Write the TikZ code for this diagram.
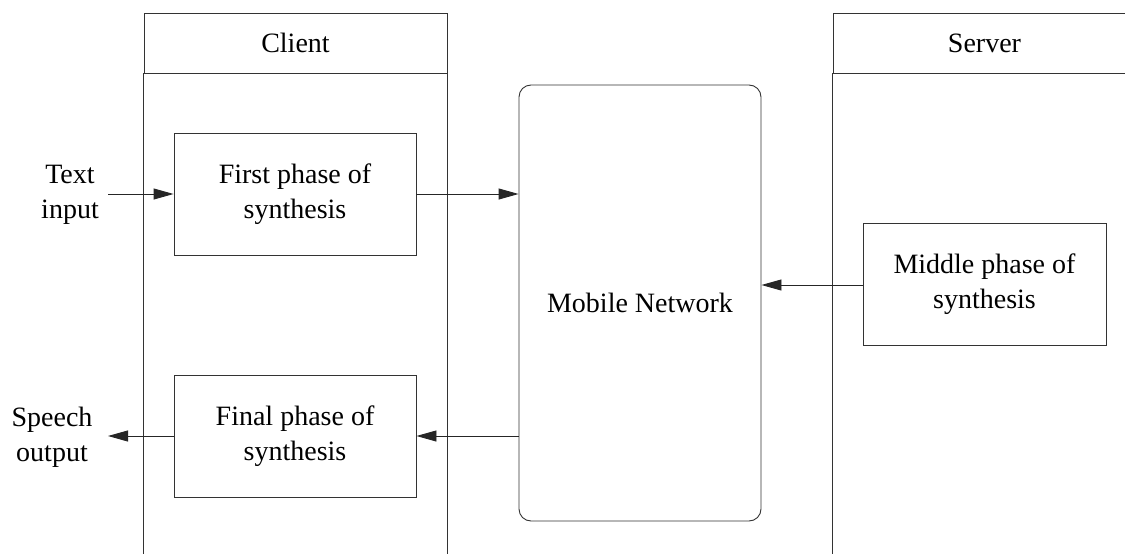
\documentclass[tikz,border=0pt]{standalone}
\usepackage{fontspec}
\setmainfont{Liberation Serif}
\usetikzlibrary{arrows.meta}

\begin{document}
\begin{tikzpicture}[x=1pt, y=-1pt,
  every node/.style={font=\fontsize{28}{35}\selectfont, align=center, inner sep=0pt},
  line/.style={draw=black!80, line width=0.9pt},
  lanehead/.style={line, minimum width=303pt, minimum height=60pt},
  phase/.style={line, minimum width=242pt, minimum height=122pt},
  netbox/.style={line, rounded corners=12pt, minimum width=242pt, minimum height=436pt},
  arr/.style={draw=black!85, line width=0.9pt, -{Triangle[length=20pt, width=11pt]}}
]
\useasboundingbox (0,0) rectangle (1125,554);
\clip (0,0) rectangle (1125,554);

% swim lanes
\node[lanehead] (clienthead) at (295.5,43) {Client};
\node[lanehead] (serverhead) at (984.5,43) {Server};
\draw[line] (clienthead.south west) -- ++(0,500);
\draw[line] (clienthead.south east) -- ++(0,500);
\draw[line] (serverhead.south west) -- ++(0,500);
\draw[line] (serverhead.south east) -- ++(0,500);

% processing stages
\node[phase] (first) at (295,194) {First phase of\\synthesis};
\node[phase] (final) at (295,436.5) {Final phase of\\synthesis};
\node[phase, minimum width=243pt] (middle) at (984.5,284.5) {Middle phase of\\synthesis};
\node[netbox] (mobile) at (640,303) {Mobile Network};

% external input and output
\node (textin) at (70,195) {Text\\input};
\node (speechout) at (52,437) {Speech\\output};
\coordinate (tin) at (108,194);
\coordinate (sout) at (108,436);

% data flow
\draw[arr] (tin) -- (tin -| first.west);
\draw[arr] (first.east |- tin) -- (mobile.west |- tin);
\draw[arr] (middle.west |- 0,285) -- (mobile.east |- 0,285);
\draw[arr] (mobile.west |- sout) -- (final.east |- sout);
\draw[arr] (final.west |- sout) -- (sout);
\end{tikzpicture}
\end{document}
